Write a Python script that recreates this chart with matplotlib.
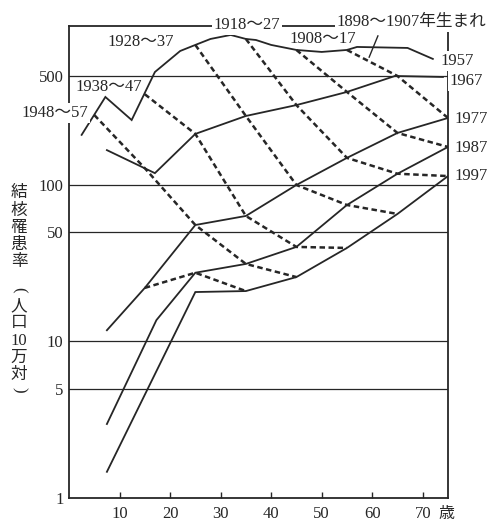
import numpy as np
import matplotlib
matplotlib.use("Agg")
import matplotlib.pyplot as plt
from matplotlib.lines import Line2D

plt.rcParams["font.family"] = ["Liberation Serif", "Noto Sans CJK JP"]

# ---------------------------------------------------------------------------
# Survey-year curves (solid): age (years) -> TB incidence per 100,000
# ---------------------------------------------------------------------------
AGES_1957 = [2.5, 7.2, 12.4, 17, 22, 25, 28, 32, 35, 37, 40, 45, 50, 55, 57, 67, 72]
RATE_1957 = [209, 365, 260, 527, 718, 785, 857, 909, 857, 844, 785, 729, 708, 729, 762, 751, 639]

AGES_1967 = [7.5, 17, 25, 35, 45, 55, 64.5, 74]
RATE_1967 = [167, 119, 212, 276, 324, 393, 497, 490]

AGES_1977 = [7.5, 15, 25, 35, 45, 55, 65, 75]
RATE_1977 = [11.8, 22.0, 55.5, 63.4, 100, 149, 215, 268]

AGES_1987 = [7.5, 17.3, 25, 35, 45, 55, 65, 75]
RATE_1987 = [2.97, 13.7, 27.5, 31.3, 40.2, 74.5, 118, 175]

AGES_1997 = [7.5, 25, 35, 45, 55, 65, 75]
RATE_1997 = [1.47, 20.7, 21.0, 25.8, 39.6, 65.3, 114]

YEAR_LABELS = ["1957", "1967", "1977", "1987", "1997"]

# ---------------------------------------------------------------------------
# Birth-cohort curves (dashed), one point per survey year
# ---------------------------------------------------------------------------
AGES_C1948 = [5, 15, 25, 35, 45]
RATE_C1948 = [280, 128, 55.5, 31.3, 25.8]
AGES_C1938 = [15, 25, 35, 45, 55]
RATE_C1938 = [380, 212, 63.4, 40.2, 39.6]
AGES_C1928 = [25, 35, 45, 55, 65]
RATE_C1928 = [785, 276, 100, 74.5, 65.3]
AGES_C1918 = [35, 45, 55, 65, 75]
RATE_C1918 = [857, 324, 149, 118, 114]
AGES_C1908 = [45, 55, 65, 75]
RATE_C1908 = [729, 393, 215, 175]
AGES_C1898 = [55, 65, 75]
RATE_C1898 = [729, 497, 268]
AGES_C1958 = [15, 25, 35]
RATE_C1958 = [22.0, 27.5, 21.0]

X_TICKS = [10, 20, 30, 40, 50, 60, 70]
Y_TICKS = [1, 5, 10, 50, 100, 500]
Y_LABEL_CHARS = ["結", "核", "罹", "患", "率", "(", "人", "口", "10", "万", "対", ")"]

INK = "#262626"

fig = plt.figure(figsize=(5.04, 5.23), dpi=100)
ax = fig.add_axes([69 / 504, 1 - 498 / 523, 379 / 504, 472 / 523])

# --- year curves ---
years = [(AGES_1957, RATE_1957), (AGES_1967, RATE_1967), (AGES_1977, RATE_1977),
         (AGES_1987, RATE_1987), (AGES_1997, RATE_1997)]
for a, r in years:
    ax.plot(a, r, color=INK, lw=1.3, solid_joinstyle="miter", zorder=3)

# --- cohort curves ---
cohorts = [(AGES_C1948, RATE_C1948), (AGES_C1938, RATE_C1938), (AGES_C1928, RATE_C1928),
           (AGES_C1918, RATE_C1918), (AGES_C1908, RATE_C1908), (AGES_C1898, RATE_C1898),
           (AGES_C1958, RATE_C1958)]
for a, r in cohorts:
    ax.plot(a, r, color=INK, lw=1.8, linestyle=(0, (2.2, 1.4)), zorder=3)

# --- axes ---
ax.set_yscale("log")
ax.set_xlim(0, 75)
ax.set_ylim(1, 1037)
ax.set_xticks(X_TICKS)
ax.set_xticklabels([str(t) for t in X_TICKS])
ax.set_yticks(Y_TICKS)
ax.set_yticklabels([str(t) for t in Y_TICKS])
ax.yaxis.set_minor_locator(matplotlib.ticker.NullLocator())
ax.tick_params(axis="x", direction="in", length=4, width=1, color=INK,
               pad=6, labelsize=12, labelcolor=INK)
ax.tick_params(axis="y", length=0, pad=4, labelsize=12, labelcolor=INK)
for v in Y_TICKS[1:]:
    ax.axhline(v, color=INK, lw=0.9, zorder=2)
for spine in ax.spines.values():
    spine.set_color(INK)
    spine.set_linewidth(1.3)

# --- labels ---
white = dict(facecolor="white", edgecolor="none", pad=1.5)
lab = dict(transform=ax.transAxes, fontsize=12, color=INK, va="center",
           clip_on=False, zorder=5)
ax.text(0.470, 1.002, "1918～27", ha="center", bbox=white, **lab)
ax.text(0.190, 0.966, "1928～37", ha="center", **lab)
ax.text(0.105, 0.871, "1938～47", ha="center", **lab)
ax.text(-0.037, 0.816, "1948～57", ha="center", bbox=white, **lab)
ax.text(0.670, 0.972, "1908～17", ha="center", **lab)
ax.text(0.707, 1.008, "1898～1907年生まれ", ha="left", bbox=white, **lab)
ax.add_line(Line2D([0.815, 0.792], [0.979, 0.934], transform=ax.transAxes,
                   color=INK, lw=1.0, clip_on=False))

year_pos = [(0.979, 0.926), (1.005, 0.883), (1.018, 0.803), (1.018, 0.742), (1.018, 0.682)]
for text, (fx, fy) in zip(YEAR_LABELS, year_pos):
    ax.text(fx, fy, text, ha="left", bbox=white, **lab)

ax.text(0.995, -0.034, "歳", ha="center", transform=ax.transAxes, fontsize=11.5,
        color=INK, va="center", clip_on=False)

# vertical y-axis title (brackets turned for vertical writing)
ylab_y = [193, 211, 228, 245, 262, 290, 306, 323, 341, 358, 375, 390]
for ch, py in zip(Y_LABEL_CHARS, ylab_y):
    rot = -90 if ch in ("(", ")") else 0
    fig.text(19 / 504, 1 - py / 523, ch, ha="center", va="center",
             rotation=rot, fontsize=12, color=INK, rotation_mode="anchor")

fig.savefig("out.png", dpi=100, facecolor="white")
